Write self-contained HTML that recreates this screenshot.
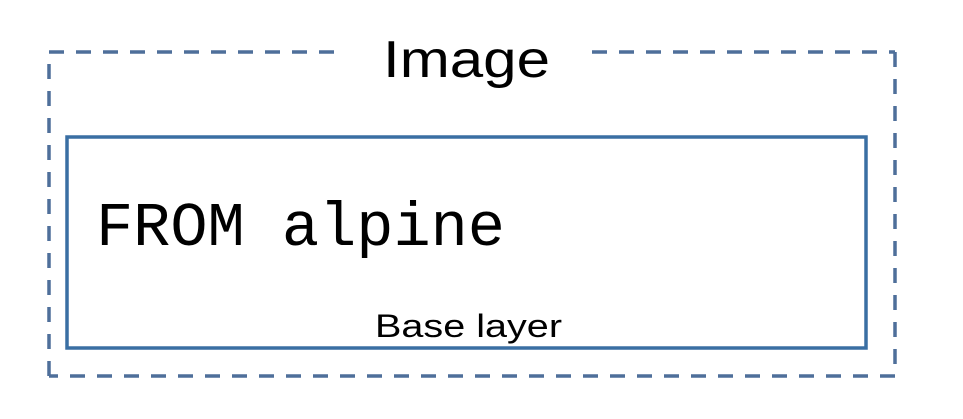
<!DOCTYPE html>
<html><head><meta charset="utf-8"><style>
html,body{margin:0;padding:0;background:#fff;width:963px;height:419px;overflow:hidden}
</style></head><body>
<svg width="963" height="419" viewBox="0 0 963 419">
  <g stroke="#4e6f9a" stroke-width="3.5" fill="none" stroke-dasharray="15,12">
    <line x1="49" y1="52" x2="345" y2="52"/>
    <line x1="592" y1="52" x2="895" y2="52"/>
    <line x1="895" y1="52" x2="895" y2="376"/>
    <line x1="895" y1="376" x2="49" y2="376"/>
    <line x1="49" y1="376" x2="49" y2="58"/>
  </g>
  <text x="383" y="77" font-family="Liberation Sans, sans-serif" font-size="52" fill="#000" textLength="167" lengthAdjust="spacingAndGlyphs">Image</text>
  <rect x="67" y="137" width="799" height="211" fill="none" stroke="#3a6fa3" stroke-width="3.5"/>
  <text x="96" y="245" font-family="Liberation Mono, monospace" font-size="62" fill="#000" textLength="409" lengthAdjust="spacingAndGlyphs">FROM alpine</text>
  <text x="375" y="337" font-family="Liberation Sans, sans-serif" font-size="32" fill="#000" textLength="187" lengthAdjust="spacingAndGlyphs">Base layer</text>
</svg>
</body></html>
